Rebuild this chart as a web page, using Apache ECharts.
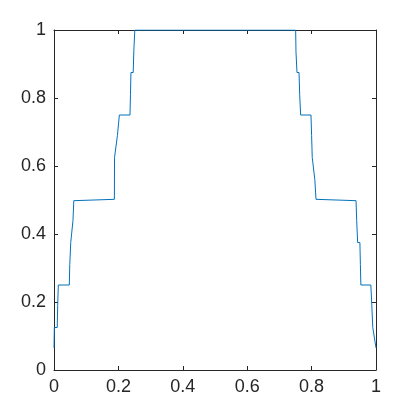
<!DOCTYPE html>
<html>
<head>
<meta charset="utf-8">
<script src="https://cdn.jsdelivr.net/npm/echarts@6/dist/echarts.min.js"></script>
<style>
  html, body { margin: 0; padding: 0; background: #fff; }
  #main { width: 415px; height: 415px; }
</style>
</head>
<body>
<div id="main"></div>
<script>
// staircase curve
var xs = [0, 0.001, 0.010, 0.0115, 0.0134, 0.0475, 0.049, 0.052, 0.057, 0.059, 0.0615,
  0.1875, 0.188, 0.193, 0.197, 0.203, 0.236, 0.2375, 0.239, 0.246, 0.248, 0.251,
  0.7505, 0.7515, 0.7546, 0.761, 0.763, 0.766, 0.798, 0.800, 0.802, 0.808, 0.810, 0.8137,
  0.938, 0.940, 0.943, 0.950, 0.9515, 0.953, 0.984, 0.987, 0.990, 0.994, 1.0];
var ys = [0.065, 0.125, 0.125, 0.19, 0.25, 0.25, 0.31, 0.375, 0.375, 0.44, 0.498,
  0.502, 0.625, 0.625, 0.69, 0.75, 0.75, 0.81, 0.875, 0.875, 0.94, 1.0,
  1.0, 0.936, 0.875, 0.875, 0.81, 0.75, 0.75, 0.69, 0.625, 0.625, 0.56, 0.502,
  0.498, 0.44, 0.375, 0.375, 0.31, 0.25, 0.25, 0.19, 0.125, 0.125, 0.065];
var xTicks = [0, 0.2, 0.4, 0.6, 0.8, 1];
var yTicks = [0, 0.2, 0.4, 0.6, 0.8, 1];

var chart = echarts.init(document.getElementById('main'));

var lineCol = '#262626';
var font = { color: '#262626', fontSize: 18, fontFamily: 'Liberation Sans, Arial, sans-serif' };

function axis(show, pos, ticks) {
  return {
    type: 'value', min: 0, max: 1, interval: 0.2, position: pos,
    axisLine: { show: true, onZero: false, lineStyle: { color: lineCol, width: 1 } },
    axisTick: { show: true, inside: true, length: 4, lineStyle: { color: lineCol } },
    axisLabel: Object.assign({
      show: show, margin: 8,
      formatter: function (v) { return ticks.indexOf(+v.toFixed(1)) >= 0 ? String(+v.toFixed(1)) : ''; }
    }, font),
    splitLine: { show: false }
  };
}

var pts = xs.map(function (x, i) { return [x, ys[i]]; });

chart.setOption({
  animation: false,
  backgroundColor: '#fff',
  grid: { left: 54, right: 39, top: 30, bottom: 45 },
  xAxis: [axis(true, 'bottom', xTicks), axis(false, 'top', xTicks)],
  yAxis: [axis(true, 'left', yTicks), axis(false, 'right', yTicks)],
  series: [{
    type: 'line',
    data: pts,
    showSymbol: false,
    lineStyle: { color: '#0072BD', width: 1 }
  }]
});
</script>
</body>
</html>
